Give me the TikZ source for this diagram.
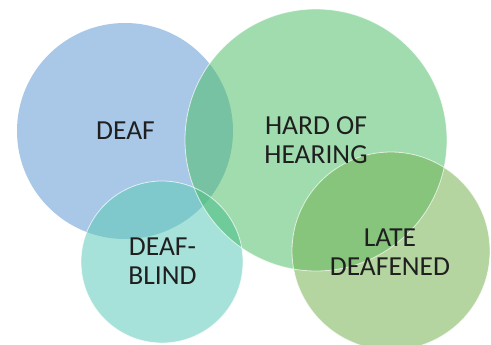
\documentclass[tikz,border=0pt]{standalone}
\usepackage{fontspec}
\setmainfont{Carlito}
\begin{document}
\begin{tikzpicture}[x=1pt,y=-1pt,
  lbl/.style={text=black!88, font=\fontsize{27.5}{29}\selectfont, align=center, inner sep=0pt},
  rim/.style={draw=white, line width=0.8pt, draw opacity=0.7}]
\definecolor{cdeaf}{HTML}{A9C8E7}
\definecolor{choh}{HTML}{A0DCAE}
\definecolor{cdb}{HTML}{A6E2D9}
\definecolor{cld}{HTML}{B4D4A0}
\definecolor{cdh}{HTML}{76C2A2}
\definecolor{cddb}{HTML}{7FC9CC}
\definecolor{chdb}{HTML}{6FCB99}
\definecolor{call}{HTML}{62C193}
\definecolor{chld}{HTML}{87C47C}
\useasboundingbox (0,0) rectangle (491,345);
\fill[white] (0,0) rectangle (491,345);
\coordinate (cD) at (125,131);
\coordinate (cH) at (316,140);
\coordinate (cB) at (162,262);
\coordinate (cL) at (391,251);
% base fills
\fill[cdeaf] (cD) circle (108);
\fill[choh] (cH) circle (131);
\fill[cdb] (cB) circle (81);
\fill[cld] (cL) circle (99);
% overlaps
\begin{scope}\clip (cD) circle (108); \fill[cdh] (cH) circle (131); \end{scope}
\begin{scope}\clip (cD) circle (108); \fill[cddb] (cB) circle (81); \end{scope}
\begin{scope}\clip (cH) circle (131); \fill[chdb] (cB) circle (81); \end{scope}
\begin{scope}\clip (cD) circle (108); \clip (cH) circle (131); \fill[call] (cB) circle (81); \end{scope}
\begin{scope}\clip (cH) circle (131); \fill[chld] (cL) circle (99); \end{scope}
% rims
\draw[rim] (cH) circle (131);
\draw[rim] (cB) circle (81);
\draw[rim] (cL) circle (99);
% labels
\node[lbl] (deaf) at (125.5,131) {DEAF};
\node[lbl] (hoh) at (316,140) {HARD OF\\HEARING};
\node[lbl] (db) at (162.5,261) {DEAF-\\BLIND};
\node[lbl] (ld) at (390,252.5) {LATE\\DEAFENED};
\end{tikzpicture}
\end{document}
